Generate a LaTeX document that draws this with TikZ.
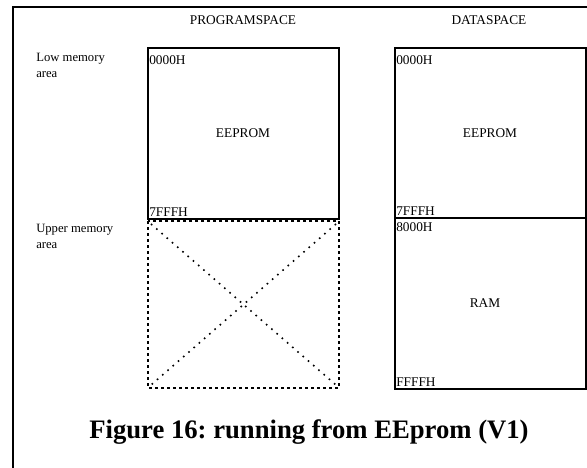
\documentclass[tikz,border=0pt]{standalone}
\usepackage{fontspec}
\setmainfont{Liberation Serif}
\frenchspacing
\begin{document}
\begin{tikzpicture}[x=0.75pt,y=-0.75pt,
  frameline/.style={line width=2.1pt},
  membox/.style={line width=2pt},
  emptyedge/.style={line width=1.5pt, dash pattern=on 2pt off 2.5pt},
  emptycross/.style={line width=1.2pt, dash pattern=on 1.2pt off 4pt},
  heading/.style={font=\fontsize{10}{12}\selectfont, inner sep=0pt},
  sidenote/.style={font=\fontsize{9.5}{12}\selectfont, align=left, anchor=north west, inner sep=0pt},
  addr/.style={font=\fontsize{10}{12}\selectfont, inner sep=0pt},
  region/.style={font=\fontsize{10}{12}\selectfont, inner sep=0pt},
  caption/.style={font=\fontsize{20}{24}\bfseries, inner sep=0pt}]
\useasboundingbox (0,0) rectangle (587,468);
\clip (0,0) rectangle (587,468);

% outer frame
\draw[frameline] (13,480) -- (13,7) -- (600,7);

% column headings
\node[heading] (ph) at (243,20) {PROGRAMSPACE};
\node[heading] (dh) at (489,20) {DATASPACE};

% row notes
\node[sidenote] (low) at (36,53) {Low memory\\area};
\node[sidenote] (upp) at (36,224) {Upper memory\\area};

% program space: EEPROM
\coordinate (p1) at (148,48);
\coordinate (p2) at (339,219);
\draw[membox] (p1) rectangle (p2);
\node[region] (pe) at (243,133) {EEPROM};
\node[addr, anchor=north west] (pa0) at (149,55) {0000H};
\node[addr, anchor=south west] (pa1) at (149,217) {7FFFH};

% program space: nothing in the upper area
\coordinate (q1) at (148,221);
\coordinate (q2) at (339,388);
\draw[emptyedge] (q1) rectangle (q2);
\draw[emptycross] ([shift={(3,3)}]q1) -- ([shift={(-3,-3)}]q2);
\draw[emptycross] ([shift={(-3,3)}]q1 -| q2) -- ([shift={(3,-3)}]q2 -| q1);

% data space: EEPROM and RAM
\coordinate (d1) at (395,48);
\coordinate (dm) at (586,218);
\coordinate (d2) at (586,389);
\draw[membox] (d1) rectangle (d2);
\draw[membox] (d1 |- dm) -- (dm);
\node[region] (de) at (490,133) {EEPROM};
\node[region] (dr) at (485,303) {RAM};
\node[addr, anchor=north west] (da0) at (396,55) {0000H};
\node[addr, anchor=south west] (da1) at (396,216) {7FFFH};
\node[addr, anchor=north west] (da2) at (396,222) {8000H};
\node[addr, anchor=south west] (da3) at (396,387) {FFFFH};

% caption
\node[caption] (cap) at (309,432) {Figure 16: running from EEprom (V1)};
\end{tikzpicture}
\end{document}
